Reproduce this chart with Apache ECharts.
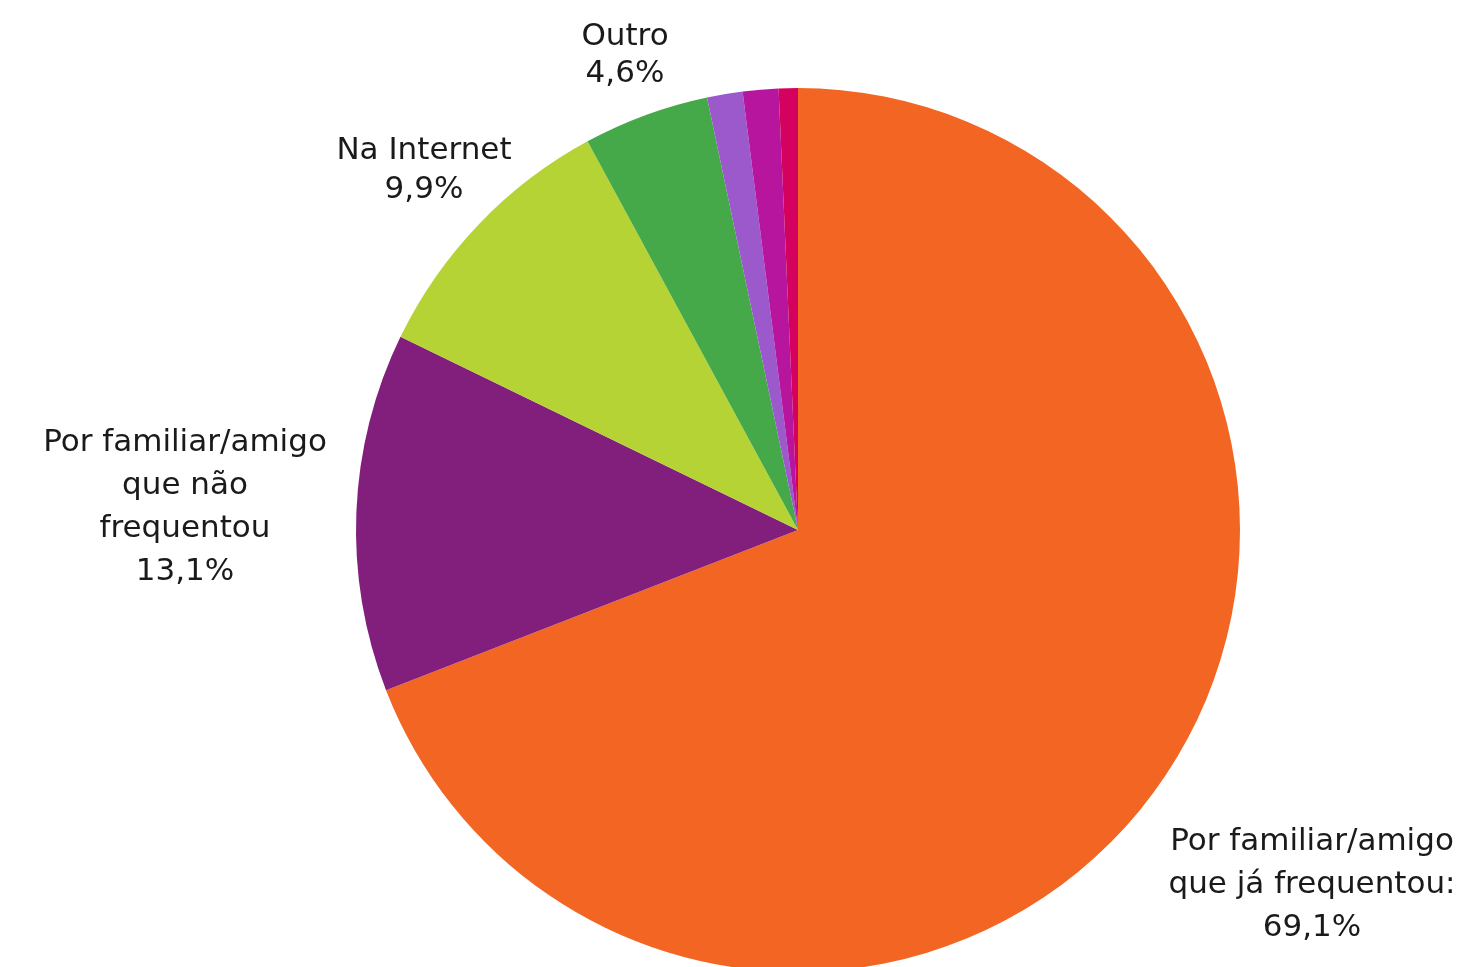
<!DOCTYPE html>
<html><head><meta charset="utf-8">
<script src="https://cdn.jsdelivr.net/npm/echarts@6/dist/echarts.min.js"></script>
<style>html,body{margin:0;padding:0;background:#fff}#c{width:1484px;height:967px}</style>
</head><body><div id="c"></div>
<script>
const categories = [
  'Por familiar/amigo\nque já frequentou:',
  'Por familiar/amigo\nque não\nfrequentou',
  'Na Internet',
  'Outro',
  'Outro A',
  'Outro B',
  'Outro C'
];
const values = [69.1, 13.1, 9.9, 4.6, 1.3, 1.3, 0.7];
const showLabel = [true, true, true, true, false, false, false];
const colors = ['#F26522', '#821E7C', '#B5D334', '#45A94A', '#9B59CB', '#B8159E', '#D4025E'];
const labelPos = [[1312, 885], [185, 507], [424, 170], [625, 55], [0,0], [0,0], [0,0]];
const labelLH = [43, 43, 39, 37, 40, 40, 40];

const chart = echarts.init(document.getElementById('c'), null, {renderer: 'canvas'});
chart.setOption({
  animation: false,
  series: [{
    type: 'pie',
    center: [798, 530],
    radius: 442,
    startAngle: 90,
    clockwise: true,
    avoidLabelOverlap: false,
    itemStyle: {borderWidth: 0},
    label: {
      show: true,
      position: 'outside',
      fontFamily: 'DejaVu Sans',
      fontSize: 31,
      lineHeight: 43,
      color: '#1a1a1a',
      align: 'center',
      formatter: p => p.name + '\n' + p.value.toFixed(1).replace('.', ',') + '%'
    },
    labelLine: {show: false},
    labelLayout: p => ({x: labelPos[p.dataIndex][0], y: labelPos[p.dataIndex][1], align: 'center', verticalAlign: 'middle'}),
    emphasis: {disabled: true},
    data: categories.map((n, i) => ({
      name: n, value: values[i],
      itemStyle: {color: colors[i]},
      label: {show: showLabel[i], lineHeight: labelLH[i]}
    }))
  }]
});
</script></body></html>
